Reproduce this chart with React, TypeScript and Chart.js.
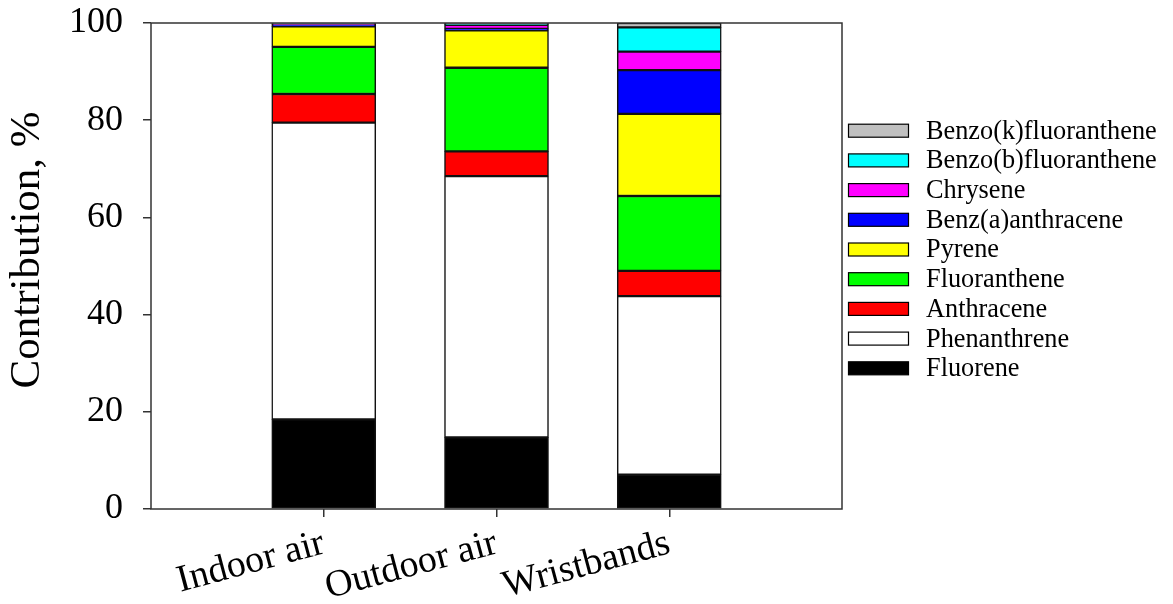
import React, { useEffect, useRef } from "react";
import { Chart, registerables } from "chart.js";

Chart.register(...registerables);

const categories = ["", "Indoor air", "Outdoor air", "Wristbands", ""];

const seriesNames = [
  "Fluorene",
  "Phenanthrene",
  "Anthracene",
  "Fluoranthene",
  "Pyrene",
  "Benz(a)anthracene",
  "Chrysene",
  "Benzo(b)fluoranthene",
  "Benzo(k)fluoranthene",
];

const seriesColors = [
  "#000000",
  "#ffffff",
  "#ff0000",
  "#00ff00",
  "#ffff00",
  "#0000ff",
  "#ff00ff",
  "#00ffff",
  "#c0c0c0",
];

const fluorene = [18.45, 14.75, 7.05];
const phenanthrene = [61.05, 53.75, 36.75];
const anthracene = [5.9, 5.1, 5.2];
const fluoranthene = [9.7, 17.2, 15.4];
const pyrene = [4.2, 7.7, 16.9];
const benzAanthracene = [0.3, 0.3, 9.0];
const chrysene = [0.2, 0.8, 3.8];
const benzoBfluoranthene = [0.1, 0.2, 5.0];
const benzoKfluoranthene = [0.1, 0.2, 0.9];

const seriesValues = [
  fluorene,
  phenanthrene,
  anthracene,
  fluoranthene,
  pyrene,
  benzAanthracene,
  chrysene,
  benzoBfluoranthene,
  benzoKfluoranthene,
];

const yTicks = [0, 20, 40, 60, 80, 100];

const FONT = "'Liberation Serif', 'Times New Roman', serif";

const framePlugin = {
  id: "frame",
  afterDatasetsDraw(chart: any) {
    const { ctx, chartArea } = chart;
    ctx.save();
    ctx.strokeStyle = "#333333";
    ctx.lineWidth = 1.5;
    ctx.strokeRect(chartArea.left, chartArea.top, chartArea.right - chartArea.left, chartArea.bottom - chartArea.top);
    ctx.restore();
  },
};

const legendPlugin = {
  id: "customLegend",
  afterDraw(chart: any) {
    const { ctx } = chart;
    const ds = chart.data.datasets;
    ctx.save();
    ctx.font = `26.3px ${FONT}`;
    ctx.textBaseline = "middle";
    ctx.textAlign = "left";
    const n = ds.length;
    for (let i = 0; i < n; i++) {
      const d = ds[n - 1 - i];
      const cy = 130.7 + i * 29.7;
      ctx.fillStyle = d.backgroundColor;
      ctx.fillRect(848.5, cy - 6.5, 60, 13);
      ctx.strokeStyle = "#000";
      ctx.lineWidth = 1.2;
      ctx.strokeRect(848.5, cy - 6.5, 60, 13);
      ctx.fillStyle = "#000";
      ctx.fillText(d.label, 926, cy + 1);
    }
    ctx.restore();
  },
};

export default function App() {
  const ref = useRef<HTMLCanvasElement | null>(null);
  useEffect(() => {
    if (!ref.current) return;
    Chart.defaults.font.family = FONT;
    Chart.defaults.color = "#000";
    const hide = (c: any) => (c.index === 0 || c.index === 4 ? "rgba(0,0,0,0)" : "#333");
    const chart = new Chart(ref.current, {
      type: "bar",
      data: {
        labels: categories,
        datasets: seriesNames.map((name, i) => ({
          label: name,
          data: [null, ...seriesValues[i], null],
          backgroundColor: seriesColors[i],
          borderColor: "#111111",
          borderWidth: 1.5,
          borderSkipped: false,
          barThickness: 104,
        })),
      },
      options: {
        animation: false,
        responsive: true,
        maintainAspectRatio: false,
        layout: { padding: { top: 23, right: 331, left: 0, bottom: 0 } },
        plugins: { legend: { display: false }, tooltip: { enabled: false } },
        scales: {
          x: {
            stacked: true,
            offset: false,
            border: { display: false },
            grid: {
              offset: false,
              drawOnChartArea: false,
              drawTicks: true,
              tickLength: 8,
              lineWidth: 1.5,
              color: hide,
              tickColor: hide,
            },
            ticks: {
              autoSkip: false,
              maxRotation: 15,
              minRotation: 15,
              padding: 4,
              font: { size: 38, family: FONT },
              color: "#000",
            },
            afterFit: (s: any) => {
              s.height = 95;
              s.paddingLeft = 0;
              s.paddingRight = 0;
            },
          },
          y: {
            stacked: true,
            min: 0,
            max: 100,
            border: { display: false },
            grid: {
              drawOnChartArea: false,
              drawTicks: true,
              tickLength: 8,
              lineWidth: 1.5,
              color: "#333",
            },
            afterBuildTicks: (s: any) => {
              s.ticks = yTicks.map((v) => ({ value: v }));
            },
            ticks: {
              padding: 20,
              font: { size: 36, family: FONT },
              color: "#000",
            },
            title: {
              display: true,
              text: "   Contribution, %",
              font: { size: 43, family: FONT },
              color: "#000",
              padding: { top: 2, bottom: 4 },
            },
            afterFit: (s: any) => {
              s.width = 151;
              s.paddingTop = 0;
              s.paddingBottom = 0;
            },
          },
        },
      },
      plugins: [framePlugin, legendPlugin],
    });
    return () => chart.destroy();
  }, []);
  return (
    <div style={{ position: "fixed", left: 0, top: 0, width: 1173, height: 604, background: "#fff" }}>
      <canvas ref={ref} />
    </div>
  );
}
